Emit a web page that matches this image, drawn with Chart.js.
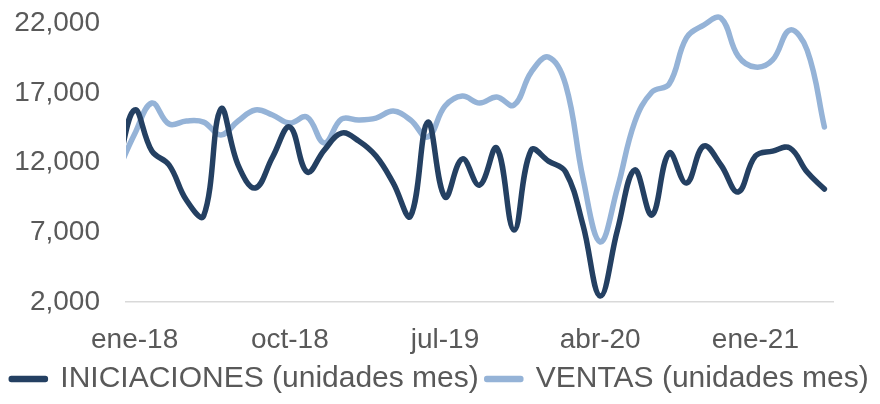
<!DOCTYPE html>
<html>
<head>
<meta charset="utf-8">
<script src="https://cdn.jsdelivr.net/npm/chart.js@4/dist/chart.umd.min.js"></script>
<style>
  html, body { margin: 0; padding: 0; background: #ffffff; }
  #wrap { width: 880px; height: 404px; }
</style>
</head>
<body>
<div id="wrap"><canvas id="chart-area" width="880" height="404"></canvas></div>
<script>
// months (dic-17 sits just left of the axis start and is clipped)
var months = ['dic-17',
  'ene-18','feb-18','mar-18','abr-18','may-18','jun-18','jul-18','ago-18','sep-18','oct-18','nov-18','dic-18',
  'ene-19','feb-19','mar-19','abr-19','may-19','jun-19','jul-19','ago-19','sep-19','oct-19','nov-19','dic-19',
  'ene-20','feb-20','mar-20','abr-20','may-20','jun-20','jul-20','ago-20','sep-20','oct-20','nov-20','dic-20',
  'ene-21','feb-21','mar-21','abr-21','may-21'];

var iniciaciones = [11480,
  15790, 12840, 11840, 9320, 8170, 15860, 11840, 10190, 12410, 14570, 11330, 12910,
  14130, 13560, 12480, 10540, 8170, 14920, 9540, 12270, 10400, 13060, 7170, 12910,
  12120, 11330, 7530, 2430, 7170, 11480, 8250, 12700, 10540, 13200, 11840, 9900,
  12480, 12840, 13060, 11330, 10110];

var ventas = [11330,
  14060, 16290, 14780, 15000, 14920, 13990, 15000, 15790, 15430, 14850, 15280, 13420,
  15140, 15070, 15210, 15710, 15070, 13850, 16070, 16790, 16290, 16720, 16140, 18510,
  19590, 17580, 10900, 6310, 10190, 14920, 17080, 17650, 20960, 21890, 22390, 19660,
  18870, 19380, 21530, 20090, 14570];

var tickMonths = ['ene-18', 'oct-18', 'jul-19', 'abr-20', 'ene-21'];
var yTicks = [2000, 7000, 12000, 17000, 22000];

var seriesNames = ['INICIACIONES (unidades mes)', 'VENTAS (unidades mes)'];
var darkBlue = '#244062';
var lightBlue = '#95b3d7';

function toPoints(values){
  var pts = [];
  for(var i = 0; i < values.length; i++){
    pts.push({x: i - 1, y: values[i]});
  }
  return pts;
}

var config = {
  type: 'line',
  data: {
    datasets: [
      {
        label: seriesNames[0],
        data: toPoints(iniciaciones),
        borderColor: darkBlue,
        backgroundColor: darkBlue,
        borderWidth: 5.5,
        borderCapStyle: 'round',
        borderJoinStyle: 'round',
        pointRadius: 0,
        tension: 0.4,
        clip: {left: 0, top: 15, right: 5, bottom: 5}
      },
      {
        label: seriesNames[1],
        data: toPoints(ventas),
        borderColor: lightBlue,
        backgroundColor: lightBlue,
        borderWidth: 5.5,
        borderCapStyle: 'round',
        borderJoinStyle: 'round',
        pointRadius: 0,
        tension: 0.4,
        clip: {left: 0, top: 15, right: 5, bottom: 5}
      }
    ]
  },
  options: {
    responsive: false,
    animation: false,
    layout: {padding: {left: 0, right: 0, top: 23.5, bottom: 0}},
    plugins: {
      tooltip: {enabled: false},
      legend: {
        position: 'bottom',
        labels: {
          color: '#595959',
          font: {family: 'Liberation Sans, Arial, sans-serif', size: 30},
          boxWidth: 34,
          boxHeight: 1,
          padding: 8
        }
      }
    },
    scales: {
      x: {
        type: 'linear',
        min: -0.5,
        max: months.length - 1.5,
        grid: {display: false, drawTicks: false},
        border: {display: true, color: '#d9d9d9', width: 1.5},
        afterBuildTicks: function(scale){
          scale.ticks = tickMonths.map(function(m){ return {value: months.indexOf(m) - 1}; });
        },
        afterFit: function(scale){ scale.height = 54; },
        ticks: {
          autoSkip: false,
          maxRotation: 0,
          padding: 21,
          color: '#595959',
          font: {family: 'Liberation Sans, Arial, sans-serif', size: 28},
          callback: function(value){ return months[value + 1]; }
        }
      },
      y: {
        min: yTicks[0],
        max: yTicks[yTicks.length - 1],
        // invisible tick marks give the gap between labels and plot
        grid: {display: false, drawTicks: true, tickLength: 26},
        border: {display: false},
        afterBuildTicks: function(scale){
          scale.ticks = yTicks.map(function(v){ return {value: v}; });
        },
        afterFit: function(scale){ scale.width = 126; },
        ticks: {
          padding: 0,
          color: '#595959',
          font: {family: 'Liberation Sans, Arial, sans-serif', size: 28},
          callback: function(value){ return value.toLocaleString('en-US'); }
        }
      },
      // empty right-hand axis that only keeps the plot 47px from the edge
      yRight: {
        position: 'right',
        grid: {display: false, drawTicks: false},
        border: {display: false},
        ticks: {display: false},
        afterFit: function(scale){ scale.width = 47; }
      }
    }
  }
};

var ctx = document.getElementById('chart-area').getContext('2d');
var chart = new Chart(ctx, config);
</script>
</body>
</html>
